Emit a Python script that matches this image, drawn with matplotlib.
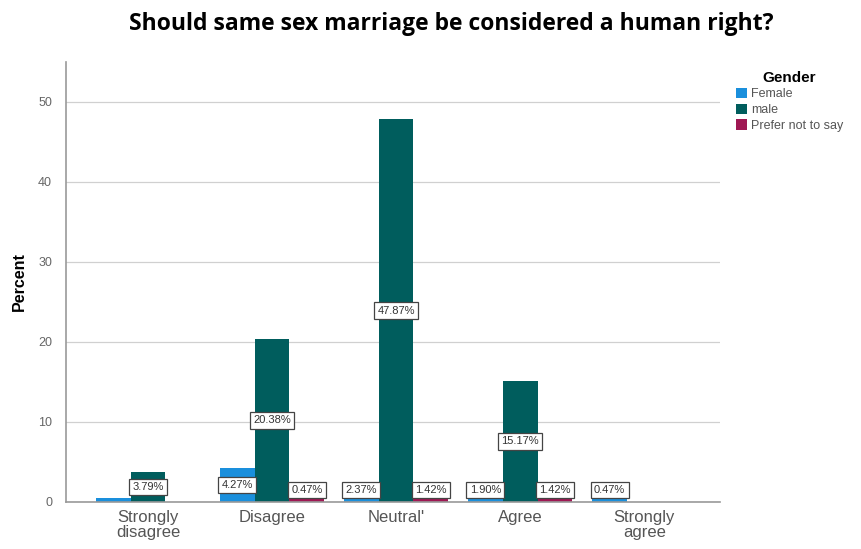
import matplotlib
matplotlib.use("Agg")
import matplotlib.pyplot as plt
import numpy as np

plt.rcParams['font.family'] = ['Liberation Sans', 'DejaVu Sans']

categories = ["Strongly\ndisagree", "Disagree", "Neutral'", "Agree", "Strongly\nagree"]
series_names = ["Female", "male", "Prefer not to say"]
female = [0.47, 4.27, 2.37, 1.90, 0.47]
male = [3.79, 20.38, 47.87, 15.17, 0.0]
prefer = [0.0, 0.47, 1.42, 1.42, 0.0]
# which bars show a value label (the tiny female bar at "Strongly disagree" has none)
female_lab = [False, True, True, True, True]
male_lab = [True, True, True, True, False]
prefer_lab = [False, True, True, True, False]
colors = ["#1a8fdc", "#005d5d", "#9f1853"]

fig = plt.figure(figsize=(8.61, 5.49), dpi=100)
ax = fig.add_axes([66/861, 47/549, (720-66)/861, (502-62)/549])

x = np.arange(len(categories))
w = 0.28
offs = [-w, 0, w]
data = [female, male, prefer]
labs = [female_lab, male_lab, prefer_lab]

ax.set_axisbelow(True)
ax.yaxis.grid(True, color="#d0d0d0", linewidth=0.9)
for s, (vals, off, col, lab) in enumerate(zip(data, offs, colors, labs)):
    ax.bar(x + off, vals, width=w, color=col, label=series_names[s], zorder=2)
    for xi, v, l in zip(x, vals, lab):
        if l:
            ax.text(xi + off, max(v / 2, 1.5), f"{v:.2f}%", ha="center", va="center",
                    fontsize=8, color="#333333", zorder=4,
                    bbox=dict(boxstyle="square,pad=0.3", fc="white", ec="#444444", lw=0.9))

ax.set_xlim(-0.66, 4.61)
ax.set_ylim(0, 55)
ax.set_yticks([0, 10, 20, 30, 40, 50])
ax.set_xticks(x)
ax.set_xticklabels(categories, fontsize=12, color="#555555", linespacing=0.95)
ax.tick_params(axis="y", labelsize=9, colors="#666666", length=0, pad=10)
ax.tick_params(axis="x", length=0, pad=6)
for sp in ["top", "right"]:
    ax.spines[sp].set_visible(False)
for sp in ["left", "bottom"]:
    ax.spines[sp].set_color("#999999")
    ax.spines[sp].set_linewidth(1.2)

ax.set_ylabel("Percent", fontsize=11.5, fontweight="bold", labelpad=8)

fig.text(451/861, 1 - 24/549, "Should same sex marriage be considered a human right?",
         ha="center", va="center", fontsize=16.5, fontweight="bold", family="Open Sans")

leg = fig.legend(loc="upper left", bbox_to_anchor=(727/861, 1 - 62/549), frameon=False,
                 title="Gender", fontsize=9, handlelength=0.9, handleheight=0.9,
                 handletextpad=0.3, labelspacing=0.25, borderpad=0.2, labelcolor="#555555")
leg.get_title().set_fontweight("bold")
leg.get_title().set_fontsize(11)

fig.savefig("out.png", dpi=100)
